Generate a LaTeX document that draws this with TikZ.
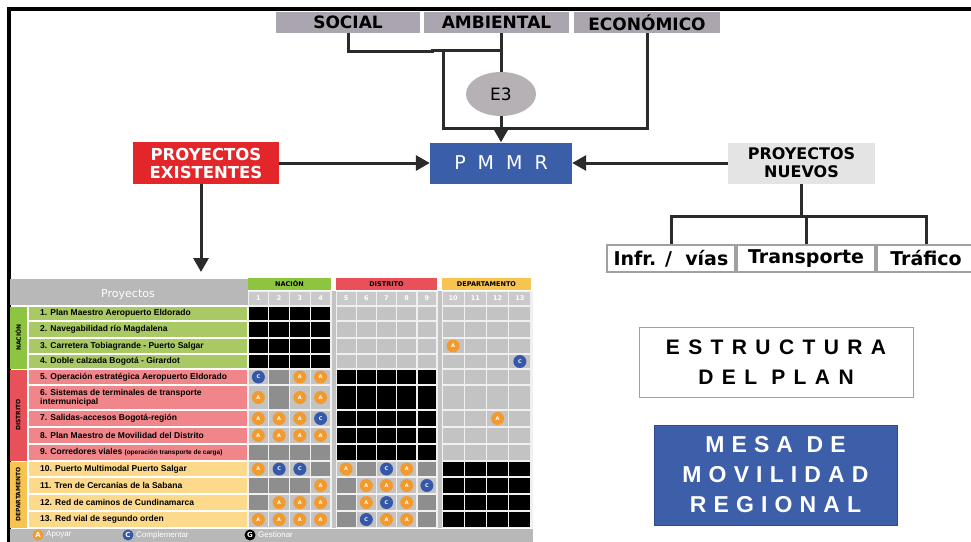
\documentclass[tikz,border=0pt]{standalone}
\usepackage{fontspec}
\setmainfont{DejaVu Sans}
\newfontfamily\tabfont{Liberation Sans}
\newfontfamily\wideA{Liberation Sans}[LetterSpace=40]
\newfontfamily\wideB{Liberation Sans}[LetterSpace=31]
\usetikzlibrary{arrows.meta,shapes.geometric}

\definecolor{topgrey}{HTML}{AAA5AE}
\definecolor{e3grey}{HTML}{B5B1B5}
\definecolor{pmblue}{HTML}{3A5FA8}
\definecolor{exred}{HTML}{E3262A}
\definecolor{nwgrey}{HTML}{E4E4E4}
\definecolor{linedark}{HTML}{2B2B2B}
\definecolor{boxgrey}{HTML}{A0A0A0}
\definecolor{mesablue}{HTML}{3D5EA9}
\definecolor{mesaedge}{HTML}{2E4A88}
\definecolor{nacgreen}{HTML}{8DC540}
\definecolor{rowgreen}{HTML}{A9C964}
\definecolor{disred}{HTML}{E8505A}
\definecolor{rowred}{HTML}{F0858A}
\definecolor{depyel}{HTML}{F7C451}
\definecolor{rowyel}{HTML}{FDD98C}
\definecolor{hdrgrey}{HTML}{B8B8B8}
\definecolor{numgrey}{HTML}{CACACA}
\definecolor{celllight}{HTML}{C3C3C3}
\definecolor{celldark}{HTML}{8E8E8E}
\definecolor{gapgrey}{HTML}{F0F0F0}
\definecolor{dotorange}{HTML}{F39A2E}
\definecolor{dotblue}{HTML}{3558A8}

% grid geometry of the project matrix
\def\colx{{248,268.75,289.5,310.25,336,356.2,376.4,396.6,416.8,442,464.25,486.5,508.75}}
\def\colw{{20.75,20.75,20.75,20.75,20.2,20.2,20.2,20.2,20.2,22.25,22.25,22.25,22.25}}
\def\rowy{{306,321,338,354,369,385,410,427,444,461,477,494,511,528}}

% cell painters: k = black, l = light, d = dark, o = orange dot, b = blue dot
\newcommand\cellpaint[5]{\fill[#1] ({#2+0.7},{#3+0.7}) rectangle ({#2+#4-0.7},{#5-0.7});}
\newcommand\cellk[4]{\cellpaint{black}{#1}{#2}{#3}{#4}}
\newcommand\celll[4]{\cellpaint{celllight}{#1}{#2}{#3}{#4}}
\newcommand\celld[4]{\cellpaint{celldark}{#1}{#2}{#3}{#4}}
\newcommand\cello[4]{\celll{#1}{#2}{#3}{#4}%
  \node[dot, fill=dotorange] (dot-\r-\j) at ({#1+#3/2},{(#2+#4)/2}) {A};}
\newcommand\cellb[4]{\celll{#1}{#2}{#3}{#4}%
  \node[dot, fill=dotblue] (dot-\r-\j) at ({#1+#3/2},{(#2+#4)/2}) {C};}

\begin{document}
\begin{tikzpicture}[x=1pt,y=-1pt,
  conn/.style={draw=linedark, line width=3pt},
  arr/.style={conn, -{Triangle[length=14pt,width=15pt]}},
  topbox/.style={fill=topgrey, minimum height=21pt, inner sep=0pt,
    font=\bfseries\fontsize{17}{17}\selectfont},
  subbox/.style={draw=boxgrey, line width=1.2pt, fill=white, minimum height=27pt,
    inner sep=0pt, font=\bfseries\fontsize{19}{19}\selectfont},
  dot/.style={circle, inner sep=0pt, minimum size=13pt, text=white,
    font=\bfseries\fontsize{5}{5}\selectfont},
  rowlab/.style={anchor=west, inner sep=0pt, align=left,
    font=\tabfont\bfseries\fontsize{8.5}{9}\selectfont},
  striplab/.style={rotate=90, inner sep=0pt, font=\bfseries\fontsize{6}{6}\selectfont},
  grouphdr/.style={minimum height=12pt, inner sep=0pt, font=\bfseries\fontsize{6.5}{6.5}\selectfont},
  legdot/.style={circle, inner sep=0pt, minimum size=11pt, text=white,
    font=\bfseries\fontsize{7}{7}\selectfont},
  legtext/.style={anchor=west, inner sep=0pt, text=white, font=\tabfont\fontsize{8}{8}\selectfont},
]
\clip (0,0) rectangle (971,541);
\fill[white] (0,0) rectangle (971,541);

% outer frame
\draw[line width=3.5pt] (9,545) -- (9,9) -- (975,9);

% ---------- upper scheme ----------
\node[topbox, minimum width=144pt] (social) at (348,22.5) {SOCIAL};
\node[topbox, minimum width=145pt] (ambiental) at (496.5,22.5) {AMBIENTAL};
\node[topbox, minimum width=146pt] (economico) at (647,22.5) {ECONÓMICO};

\node[ellipse, fill=e3grey, minimum width=70pt, minimum height=44pt, inner sep=0pt,
  font=\fontsize{17}{17}\selectfont] (e3) at (501,94) {E3};

\node[fill=pmblue, minimum width=142pt, minimum height=41pt, inner sep=0pt, text=white,
  font=\fontsize{19}{19}\selectfont] (pmmr) at (501,163)
  {P\hspace{12pt}M\hspace{12pt}M\hspace{12pt}R};

\node[fill=exred, minimum width=146pt, minimum height=42pt, inner sep=0pt, text=white,
  align=center, font=\bfseries\fontsize{16.5}{18}\selectfont] (exist) at (206,163)
  {PROYECTOS\\EXISTENTES};

\node[fill=nwgrey, minimum width=147pt, minimum height=41pt, inner sep=0pt,
  align=center, font=\bfseries\fontsize{16}{18}\selectfont] (nuevos) at (801.5,163)
  {PROYECTOS\\NUEVOS};

\node[subbox, minimum width=128pt] (infr) at (671,258.5) {Infr. /\ \ vías};
\node[subbox, minimum width=138pt] (transp) at (806,258.5) {Transporte};
\node[subbox, minimum width=98pt] (trafico) at (926,258.5) {Tráfico};

% joints of the connector network
\coordinate (sj) at (432,51.5);
\coordinate (aj) at (501,50);
\coordinate (lt) at (443,50);
\coordinate (lb) at (443,128);
\coordinate (bus) at (803,216);
\coordinate (tarrow) at (201,272);

\draw[conn] (social.south) |- (sj) |- (aj);
\draw[conn] (ambiental.south -| e3.north) -- (e3.north);
\draw[conn] (lt) -- (lb) -| (economico.south);
\draw[arr] (e3.south) -- (pmmr.north);
\draw[arr] (exist.east) -- (pmmr.west);
\draw[arr] (nuevos.west) -- (pmmr.east);
\draw[arr] (exist.south -| tarrow) -- (tarrow);

\draw[conn] (nuevos.south) -- (nuevos.south |- bus);
\draw[conn] (infr.north) -- (infr.north |- bus) -- (trafico.north |- bus) -- (trafico.north);
\draw[conn] (transp.north |- bus) -- (transp.north);

% ---------- right-hand titles ----------
\node[draw=boxgrey, line width=1pt, fill=white, minimum width=274pt, minimum height=70pt,
  inner sep=0pt, align=center, font=\wideA\bfseries\fontsize{21}{30}\selectfont] (estructura)
  at (776,362) {ESTRUCTURA\\DEL PLAN};

\node[draw=mesaedge, line width=1pt, fill=mesablue, minimum width=243pt, minimum height=100pt,
  inner sep=0pt, align=center, text=white, font=\wideB\bfseries\fontsize{23}{30}\selectfont] (mesa)
  at (775.5,475) {MESA DE\\MOVILIDAD\\REGIONAL};

% ---------- project matrix ----------
\fill[gapgrey] (247,291) rectangle (533,528);
\fill[celllight] (331.6,291) rectangle (335.6,528);
\fill[celllight] (437.6,291) rectangle (441.6,528);

\fill[hdrgrey] (10,279) rectangle (247.5,304.5);
\node[text=white, inner sep=0pt, font=\fontsize{11}{11}\selectfont] (projhdr) at (128,295) {Proyectos};

\node[grouphdr, fill=nacgreen, minimum width=83pt] (hnac) at (289.5,284) {NACIÓN};
\node[grouphdr, fill=disred, minimum width=101pt] (hdis) at (386.5,284) {DISTRITO};
\node[grouphdr, fill=depyel, minimum width=89pt] (hdep) at (486.5,284) {DEPARTAMENTO};

\foreach \j in {1,...,13} {
  \pgfmathsetmacro\xa{\colx[\j-1]}
  \pgfmathsetmacro\xw{\colw[\j-1]}
  \fill[numgrey] ({\xa+0.7},292) rectangle ({\xa+\xw-0.7},304.5);
  \node[text=white, inner sep=0pt, font=\bfseries\fontsize{6.5}{6.5}\selectfont]
    (num-\j) at ({\xa+\xw/2},298.5) {\j};
}

% category strips
\fill[nacgreen] (10,306.5) rectangle (26.5,368.5);
\fill[disred] (10,369.5) rectangle (26.5,460.5);
\fill[depyel] (10,461.5) rectangle (26.5,527.5);
\node[striplab] (snac) at (18.2,337.5) {NACIÓN};
\node[striplab] (sdis) at (18.2,415) {DISTRITO};
\node[striplab] (sdep) at (18.2,494.5) {DEPARTAMENTO};

% project rows
\foreach \r in {1,...,13} {
  \pgfmathsetmacro\ya{\rowy[\r-1]}
  \pgfmathsetmacro\yb{\rowy[\r]}
  \ifnum\r<5 \def\rc{rowgreen}\else\ifnum\r<10 \def\rc{rowred}\else\def\rc{rowyel}\fi\fi
  \fill[\rc] (29,{\ya+0.6}) rectangle (247,{\yb-0.6});
}
\node[rowlab] (p1) at (40,313.5) {1. Plan Maestro Aeropuerto Eldorado};
\node[rowlab] (p2) at (40,329.5) {2. Navegabilidad río Magdalena};
\node[rowlab] (p3) at (40,346) {3. Carretera Tobiagrande - Puerto Salgar};
\node[rowlab] (p4) at (40,361.5) {4. Doble calzada Bogotá - Girardot};
\node[rowlab] (p5) at (40,377) {5. Operación estratégica Aeropuerto Eldorado};
\node[rowlab] (p6) at (40,397.5) {6. Sistemas de terminales de transporte\\intermunicipal};
\node[rowlab] (p7) at (40,418.5) {7. Salidas-accesos Bogotá-región};
\node[rowlab] (p8) at (40,435.5) {8. Plan Maestro de Movilidad del Distrito};
\node[rowlab] (p9) at (40,452.5) {9. Corredores viales {\fontsize{6.5}{7}\selectfont(operación transporte de carga)}};
\node[rowlab] (p10) at (40,469) {10. Puerto Multimodal Puerto Salgar};
\node[rowlab] (p11) at (40,485.5) {11. Tren de Cercanías de la Sabana};
\node[rowlab] (p12) at (40,502.5) {12. Red de caminos de Cundinamarca};
\node[rowlab] (p13) at (40,519.5) {13. Red vial de segundo orden};

% matrix cells
\foreach \cells [count=\r] in {
  {k,k,k,k,l,l,l,l,l,l,l,l,l},
  {k,k,k,k,l,l,l,l,l,l,l,l,l},
  {k,k,k,k,l,l,l,l,l,o,l,l,l},
  {k,k,k,k,l,l,l,l,l,l,l,l,b},
  {b,d,o,o,k,k,k,k,k,l,l,l,l},
  {o,d,o,o,k,k,k,k,k,l,l,l,l},
  {o,o,o,b,k,k,k,k,k,l,l,o,l},
  {o,o,o,o,k,k,k,k,k,l,l,l,l},
  {d,d,d,d,k,k,k,k,k,l,l,l,l},
  {o,b,b,d,o,d,b,o,d,k,k,k,k},
  {d,d,d,o,d,o,o,o,b,k,k,k,k},
  {d,o,o,o,d,o,b,o,d,k,k,k,k},
  {o,o,o,o,d,b,o,o,d,k,k,k,k}} {
  \pgfmathsetmacro\ya{\rowy[\r-1]}
  \pgfmathsetmacro\yb{\rowy[\r]}
  \foreach \c [count=\j] in \cells {
    \pgfmathsetmacro\xa{\colx[\j-1]}
    \pgfmathsetmacro\xw{\colw[\j-1]}
    \csname cell\c\endcsname{\xa}{\ya}{\xw}{\yb}
  }
}

% legend bar
\fill[hdrgrey] (10,528.5) rectangle (533,545);
\node[legdot, fill=dotorange] (legA) at (38,535) {A};
\node[legtext] (legAt) at (46,535) {Apoyar};
\node[legdot, fill=dotblue] (legC) at (128,535) {C};
\node[legtext] (legCt) at (136,535) {Complementar};
\node[legdot, fill=black] (legG) at (250,535) {G};
\node[legtext] (legGt) at (258,535) {Gestionar};
\end{tikzpicture}
\end{document}
